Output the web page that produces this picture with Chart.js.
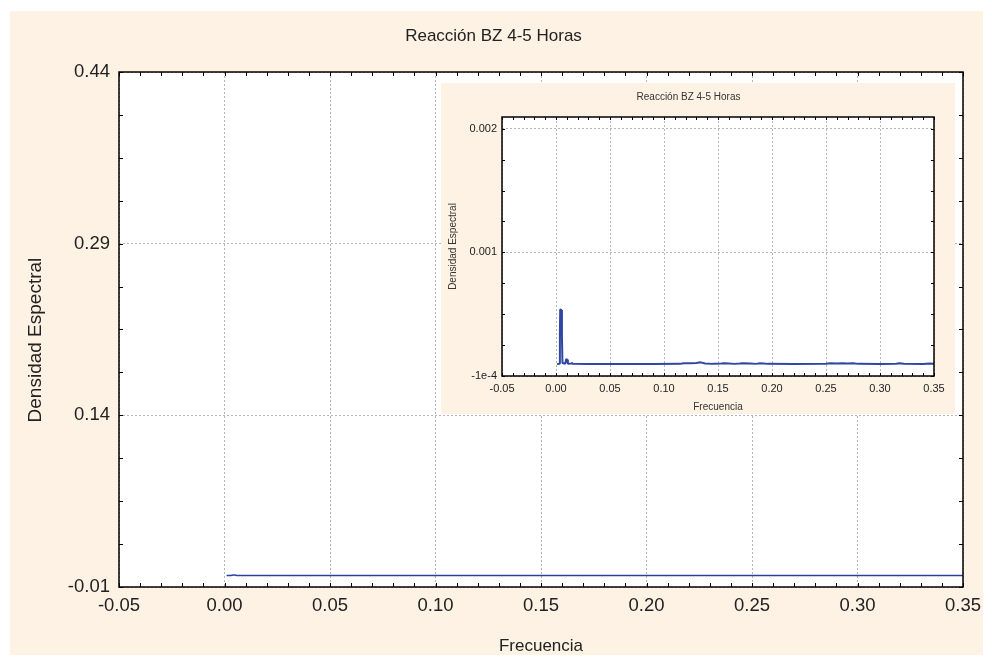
<!DOCTYPE html>
<html>
<head>
<meta charset="utf-8">
<script src="https://cdn.jsdelivr.net/npm/chart.js@4"></script>
<style>
    html, body { margin: 0; padding: 0; background: #ffffff; }
    #wrap { position: relative; width: 992px; height: 665px; }
    #fondo { position: absolute; left: 10px; top: 11px; width: 973px; height: 644px; background: #fdf2e4; }
    #mainChart { position: absolute; left: 0; top: 0; }
    #insetBox { position: absolute; left: 441px; top: 83px; width: 514px; height: 331px; background: #fdf2e4; }
    #insetChart { position: absolute; left: 0; top: 0; }
</style>
</head>
<body>
<div id="wrap">
    <div id="fondo"></div>
    <canvas id="mainChart" width="992" height="665"></canvas>
    <div id="insetBox">
        <canvas id="insetChart" width="514" height="331"></canvas>
    </div>
</div>

<script>

const titulo = "Reacción BZ 4-5 Horas";

/* =======================
   DATOS
======================= */

const frecuencia = [
    0.0010, 0.0030, 0.0036, 0.0039, 0.0043, 0.0050, 0.0055, 0.0060,
    0.0085, 0.0095, 0.0102, 0.0110, 0.0140, 0.0146, 0.0152, 0.0300,
    0.0600, 0.0900, 0.1150, 0.1180, 0.1250, 0.1300, 0.1340, 0.1380,
    0.1450, 0.1530, 0.1560, 0.1600, 0.1650, 0.1700, 0.1730, 0.1800,
    0.1850, 0.1890, 0.1920, 0.1960, 0.2200, 0.2500, 0.2540, 0.2600,
    0.2650, 0.2700, 0.2750, 0.2800, 0.3000, 0.3150, 0.3180, 0.3220,
    0.3400, 0.3460, 0.3600
];

const densidad = [
    0.000002, 0.000003, 0.000250, 0.000467, 0.000467, 0.000460, 0.000222, 0.000010,
    0.000004, 0.000044, 0.000040, 0.000004, 0.000006, 0.000014, 0.000004, 0.000002,
    0.000002, 0.000002, 0.000003, 0.000009, 0.000008, 0.000010, 0.000016, 0.000006,
    0.000003, 0.000006, 0.000008, 0.000006, 0.000003, 0.000006, 0.000008, 0.000007,
    0.000003, 0.000008, 0.000007, 0.000003, 0.000002, 0.000004, 0.000008, 0.000007,
    0.000008, 0.000007, 0.000008, 0.000003, 0.000002, 0.000004, 0.000008, 0.000004,
    0.000002, 0.000006, 0.000002
];

const xTicks = [-0.05, 0.00, 0.05, 0.10, 0.15, 0.20, 0.25, 0.30, 0.35];
const xTickLabels = ["-0.05", "0.00", "0.05", "0.10", "0.15", "0.20", "0.25", "0.30", "0.35"];

const yTicks = [-0.01, 0.14, 0.29, 0.44];
const yTickLabels = ["-0.01", "0.14", "0.29", "0.44"];

const insetYTicks = [-0.0001, 0.00095, 0.002];
const insetYTickLabels = ["-1e-4", "0.001", "0.002"];

const puntos = frecuencia.map((f, i) => ({ x: f, y: densidad[i] }));

/* =======================
   PLUGIN: marco, fondo y marcas internas
======================= */

const marcoPlugin = {
    id: "marco",
    beforeDraw(chart) {
        const { ctx, chartArea: a } = chart;
        ctx.save();
        ctx.fillStyle = "#ffffff";
        ctx.fillRect(a.left, a.top, a.right - a.left, a.bottom - a.top);
        ctx.restore();
    },
    afterDraw(chart, args, opts) {
        const { ctx, chartArea: a, scales } = chart;
        const len = opts.len;

        ctx.save();
        ctx.strokeStyle = "#000000";
        ctx.lineWidth = 1;
        ctx.beginPath();

        const sx = scales.x;
        const xStep = (xTicks[1] - xTicks[0]) / 5;
        for (let k = 0; k <= 40; k++) {
            const px = Math.round(sx.getPixelForValue(xTicks[0] + k * xStep)) + 0.5;
            ctx.moveTo(px, a.bottom);
            ctx.lineTo(px, a.bottom - len);
            ctx.moveTo(px, a.top);
            ctx.lineTo(px, a.top + len);
        }

        const sy = scales.y;
        const yt = opts.yTicks;
        const yStep = (yt[1] - yt[0]) / 4;
        for (let k = 0; k <= (yt.length - 1) * 4; k++) {
            const py = Math.round(sy.getPixelForValue(yt[0] + k * yStep)) + 0.5;
            ctx.moveTo(a.left, py);
            ctx.lineTo(a.left + len, py);
            ctx.moveTo(a.right, py);
            ctx.lineTo(a.right - len, py);
        }
        ctx.stroke();

        ctx.lineWidth = opts.frame;
        ctx.strokeRect(a.left, a.top, a.right - a.left, a.bottom - a.top);
        ctx.restore();
    }
};

/* =======================
   GRAFICO PRINCIPAL
======================= */

function loadMainChart() {

    new Chart(
        document.getElementById("mainChart"),
        {
            type: "line",
            data: {
                datasets: [{
                    label: "Densidad",
                    data: puntos,
                    borderColor: "#2b40a0",
                    borderWidth: 1.5,
                    borderJoinStyle: "bevel",
                    pointRadius: 0,
                    tension: 0
                }]
            },
            options: {
                responsive: false,
                animation: false,
                devicePixelRatio: 1,
                layout: { padding: { left: 24, right: 29, top: 0, bottom: 0 } },
                plugins: {
                    legend: { display: false },
                    tooltip: { enabled: false },
                    title: {
                        display: true,
                        text: titulo,
                        color: "#222222",
                        font: { family: "Liberation Sans", size: 17, weight: "normal" },
                        padding: { top: 26, bottom: 25.6 }
                    },
                    marco: { len: 4, frame: 1.5, yTicks: yTicks }
                },
                scales: {
                    x: {
                        type: "linear",
                        min: -0.05,
                        max: 0.35,
                        afterBuildTicks: s => { s.ticks = xTicks.map(v => ({ value: v })); },
                        afterFit: s => { s.height = 78; },
                        ticks: {
                            callback: (v, i) => xTickLabels[i],
                            color: "#222222",
                            font: { family: "Liberation Sans", size: 18.5 },
                            padding: 8,
                            maxRotation: 0
                        },
                        grid: { color: "#b5b5b5", lineWidth: 1, drawTicks: false },
                        border: { display: false, dash: [2, 2] },
                        title: {
                            display: true,
                            text: "Frecuencia",
                            color: "#222222",
                            font: { family: "Liberation Sans", size: 17 },
                            padding: { top: 0, bottom: 8 }
                        }
                    },
                    y: {
                        type: "linear",
                        min: -0.01,
                        max: 0.44,
                        afterBuildTicks: s => { s.ticks = yTicks.map(v => ({ value: v })); },
                        afterFit: s => { s.width = 95; },
                        ticks: {
                            callback: (v, i) => yTickLabels[i],
                            color: "#222222",
                            font: { family: "Liberation Sans", size: 18.5 },
                            padding: 9
                        },
                        grid: { color: "#b5b5b5", lineWidth: 1, drawTicks: false },
                        border: { display: false, dash: [2, 2] },
                        title: {
                            display: true,
                            text: "Densidad Espectral\u00a0\u00a0\u00a0\u00a0",
                            color: "#222222",
                            font: { family: "Liberation Sans", size: 19 },
                            padding: { top: 0, bottom: 0 }
                        }
                    }
                }
            },
            plugins: [marcoPlugin]
        }
    );
}

/* =======================
   GRAFICO INSERTADO
======================= */

function loadInsetChart() {

    new Chart(
        document.getElementById("insetChart"),
        {
            type: "line",
            data: {
                datasets: [{
                    label: "Densidad",
                    data: puntos,
                    borderColor: "#2f47a3",
                    borderWidth: 2,
                    borderJoinStyle: "bevel",
                    pointRadius: 0,
                    tension: 0
                }]
            },
            options: {
                responsive: false,
                animation: false,
                devicePixelRatio: 1,
                layout: { padding: { left: 2, right: 21, top: 0, bottom: 0 } },
                plugins: {
                    legend: { display: false },
                    tooltip: { enabled: false },
                    title: {
                        display: true,
                        text: titulo,
                        color: "#333333",
                        font: { family: "Liberation Sans", size: 10, weight: "normal" },
                        padding: { top: 8, bottom: 14 }
                    },
                    marco: { len: 3, frame: 1.5, yTicks: insetYTicks }
                },
                scales: {
                    x: {
                        type: "linear",
                        min: -0.05,
                        max: 0.35,
                        afterBuildTicks: s => { s.ticks = xTicks.map(v => ({ value: v })); },
                        afterFit: s => { s.height = 38; },
                        ticks: {
                            callback: (v, i) => xTickLabels[i],
                            color: "#222222",
                            font: { family: "Liberation Sans", size: 11 },
                            padding: 6,
                            maxRotation: 0
                        },
                        grid: { color: "#b5b5b5", lineWidth: 1, drawTicks: false },
                        border: { display: false, dash: [2, 2] },
                        title: {
                            display: true,
                            text: "Frecuencia",
                            color: "#333333",
                            font: { family: "Liberation Sans", size: 10 },
                            padding: { top: 0, bottom: 1 }
                        }
                    },
                    y: {
                        type: "linear",
                        min: -0.0001,
                        max: 0.0021,
                        afterBuildTicks: s => { s.ticks = insetYTicks.map(v => ({ value: v })); },
                        afterFit: s => { s.width = 59; },
                        ticks: {
                            callback: (v, i) => insetYTickLabels[i],
                            color: "#222222",
                            font: { family: "Liberation Sans", size: 11 },
                            padding: 5
                        },
                        grid: { color: "#b5b5b5", lineWidth: 1, drawTicks: false },
                        border: { display: false, dash: [2, 2] },
                        title: {
                            display: true,
                            text: "Densidad Espectral",
                            color: "#333333",
                            font: { family: "Liberation Sans", size: 10 },
                            padding: { top: 4, bottom: 0 }
                        }
                    }
                }
            },
            plugins: [marcoPlugin]
        }
    );
}

document.addEventListener("DOMContentLoaded", () => {

    loadMainChart();

    loadInsetChart();

});

</script>
</body>
</html>
